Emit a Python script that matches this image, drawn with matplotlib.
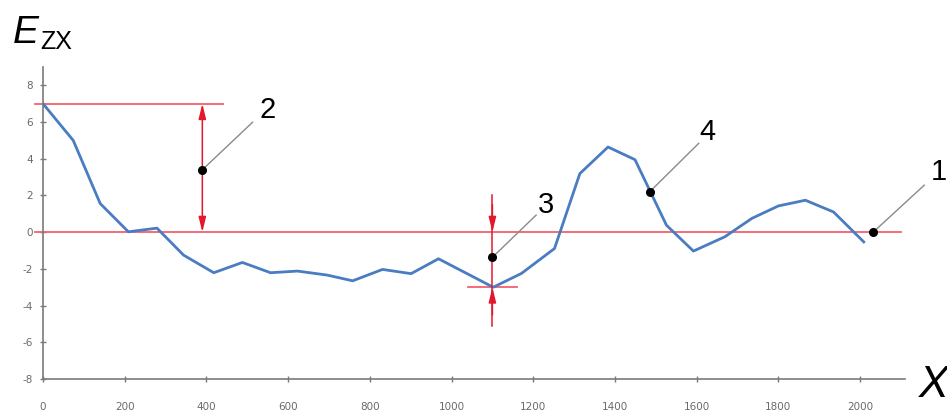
import matplotlib
matplotlib.use("Agg")
import matplotlib.pyplot as plt

# profile of E_zx along the line
x_pos = [0, 74, 140, 209, 279, 344, 418, 488, 557, 623, 696, 758, 831, 901, 968,
         1102, 1171, 1252, 1314, 1383, 1449, 1526, 1592, 1669, 1735, 1800, 1866, 1935, 2009]
e_zx = [7.0, 5.0, 1.56, 0.02, 0.22, -1.25, -2.21, -1.65, -2.21, -2.12, -2.34, -2.65, -2.03, -2.26, -1.45,
        -3.0, -2.25, -0.89, 3.19, 4.64, 3.95, 0.38, -1.03, -0.25, 0.75, 1.43, 1.74, 1.1, -0.53]

x_ticks = [0, 200, 400, 600, 800, 1000, 1200, 1400, 1600, 1800, 2000]
y_ticks = [-8, -6, -4, -2, 0, 2, 4, 6, 8]

# marked points: label, point (x, y), leader end (x, y), label position (x, y)
points = [
    ("1", (2032, 0.0), (2157, 2.56), (2172, 2.83)),
    ("2", (390, 3.4), (513, 5.99), (530, 6.2)),
    ("3", (1100, -1.37), (1207, 0.93), (1212, 1.03)),
    ("4", (1485, 2.2), (1605, 4.84), (1607, 5.0)),
]

max_level = 7.0
min_level = -3.0
marker_x = 1100

blue = "#4a7cc2"
red_line = "#f2606e"
red = "#e3182d"

plt.rcParams["font.family"] = ["DejaVu Sans"]
plt.rcParams["axes.unicode_minus"] = False
fig = plt.figure(figsize=(9.47, 4.12), dpi=100)
ax = fig.add_axes([0.0454, 0.0801, 0.9103, 0.7573])

ax.set_xlim(0, 2110)
ax.set_ylim(-8, 9)

# reference levels
ax.plot([-20, 440], [max_level, max_level], color=red_line, lw=1.3, clip_on=False, zorder=2)
ax.plot([-20, 2100], [0, 0], color=red_line, lw=1.3, clip_on=False, zorder=2)
ax.plot([marker_x - 60, marker_x + 60], [min_level, min_level], color=red_line, lw=1.3, zorder=2)

ax.plot(x_pos, e_zx, color=blue, lw=2.0, zorder=3)

# amplitude arrows
arrow_kw = dict(arrowstyle="-|>,head_length=0.9,head_width=0.22", color=red, lw=1.1,
                shrinkA=0, shrinkB=0)
ax.annotate("", xy=(390, max_level), xytext=(390, 3.5), arrowprops=arrow_kw, zorder=4)
ax.annotate("", xy=(390, 0), xytext=(390, 3.5), arrowprops=arrow_kw, zorder=4)
ax.plot([marker_x, marker_x], [2.0, -5.1], color=red, lw=1.1, zorder=4)
ax.annotate("", xy=(marker_x, 0), xytext=(marker_x, 1.5), arrowprops=arrow_kw, zorder=4)
ax.annotate("", xy=(marker_x, min_level), xytext=(marker_x, -4.5), arrowprops=arrow_kw, zorder=4)

# numbered points with leader lines
for name, (px, py), (ex, ey), (lx, ly) in points:
    ax.plot([px, ex], [py, ey], color="#8a8a8a", lw=1.0, clip_on=False, zorder=5)
    ax.plot(px, py, "o", color="black", ms=5.5, clip_on=False, zorder=6)
    ax.text(lx, ly, name, fontsize=21, family="Liberation Sans", ha="left", va="baseline",
            clip_on=False)

for side in ("top", "right"):
    ax.spines[side].set_visible(False)
for side in ("left", "bottom"):
    ax.spines[side].set_color("#7a7a7a")
    ax.spines[side].set_linewidth(1.2)

ax.set_xticks(x_ticks)
ax.set_yticks(y_ticks)
ax.tick_params(axis="both", direction="inout", length=5, width=1, color="#7a7a7a",
               labelsize=7.5, labelcolor="#6a6a6a")
ax.tick_params(axis="x", pad=14)
ax.tick_params(axis="y", pad=5)

fig.text(0.013, 0.895, "E", fontsize=28, style="italic", family="Liberation Sans",
         ha="left", va="baseline")
fig.text(0.043, 0.88, "ZX", fontsize=18, family="Liberation Sans", ha="left", va="baseline")
fig.text(0.9705, 0.037, "X", fontsize=32, style="italic", family="Liberation Sans",
         ha="left", va="baseline")

fig.savefig("out.png", dpi=100)
